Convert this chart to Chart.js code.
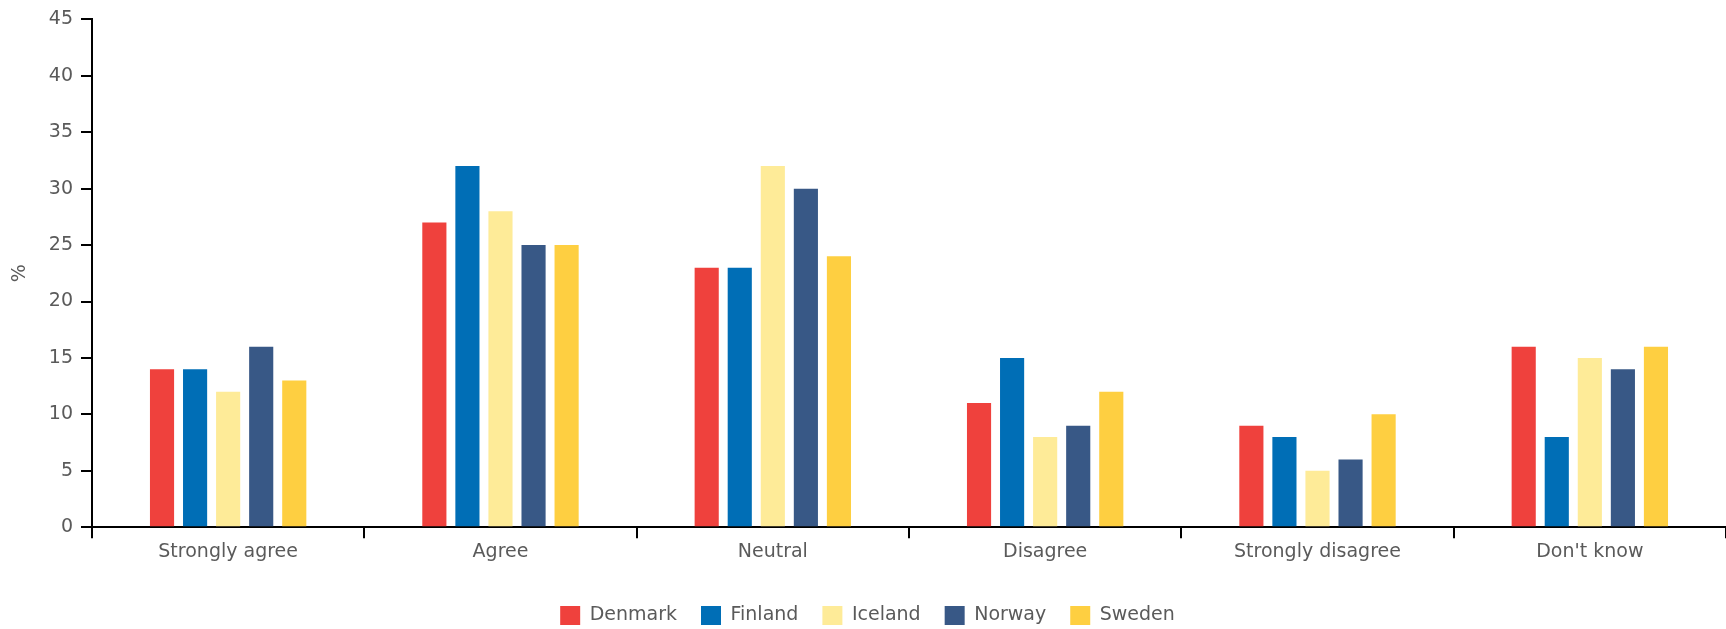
<!DOCTYPE html>
<html>
<head>
<meta charset="utf-8">
<script src="https://cdn.jsdelivr.net/npm/chart.js@4"></script>
<style>
  html, body { margin: 0; padding: 0; background: #fff; }
  #wrap { width: 1726px; height: 629px; }
</style>
</head>
<body>
<div id="wrap"><canvas id="surveyChart"></canvas></div>
<script>
// categories and series
var categories = ['Strongly agree', 'Agree', 'Neutral', 'Disagree', 'Strongly disagree', "Don't know"];
var denmark = [14, 27, 23, 11, 9, 16];
var finland = [14, 32, 23, 15, 8, 8];
var iceland = [12, 28, 32, 8, 5, 15];
var norway  = [16, 25, 30, 9, 6, 14];
var sweden  = [13, 25, 24, 12, 10, 16];

var textColor = '#5a5a5a';
var baseFont = { family: '"DejaVu Sans", sans-serif', size: 19, weight: 'normal' };

function series(label, data, color) {
  return {
    label: label,
    data: data,
    backgroundColor: color,
    borderWidth: 0,
    barPercentage: 0.73,
    categoryPercentage: 0.607
  };
}

window.addEventListener('DOMContentLoaded', function() {
  var ctx = document.getElementById('surveyChart').getContext('2d');
  new Chart(ctx, {
    type: 'bar',
    data: {
      labels: categories,
      datasets: [
        series('Denmark', denmark, '#EF413D'),
        series('Finland', finland, '#006EB6'),
        series('Iceland', iceland, '#FEEB98'),
        series('Norway', norway, '#385886'),
        series('Sweden', sweden, '#FECF41')
      ]
    },
    options: {
      responsive: true,
      maintainAspectRatio: false,
      animation: false,
      layout: { padding: { top: 4, right: 0, left: 9, bottom: -6 } },
      plugins: {
        legend: {
          position: 'bottom',
          labels: {
            boxWidth: 20,
            boxHeight: 19,
            padding: 24,
            color: textColor,
            font: baseFont
          }
        },
        tooltip: { enabled: false }
      },
      scales: {
        x: {
          grid: { drawOnChartArea: false, color: '#000', lineWidth: 2, tickLength: 11, offset: true },
          border: { color: '#000', width: 2 },
          ticks: { color: textColor, font: baseFont, padding: 2 },
          afterFit: function(scale) { scale.height += 17; }
        },
        y: {
          min: 0,
          max: 45,
          ticks: { stepSize: 5, color: textColor, font: baseFont, padding: 8 },
          grid: { drawOnChartArea: false, color: '#000', lineWidth: 2, tickLength: 11 },
          border: { color: '#000', width: 2 },
          title: { display: true, text: '%', color: textColor, font: baseFont, padding: { top: 0, bottom: 9 } }
        }
      }
    }
  });
});
</script>
</body>
</html>
